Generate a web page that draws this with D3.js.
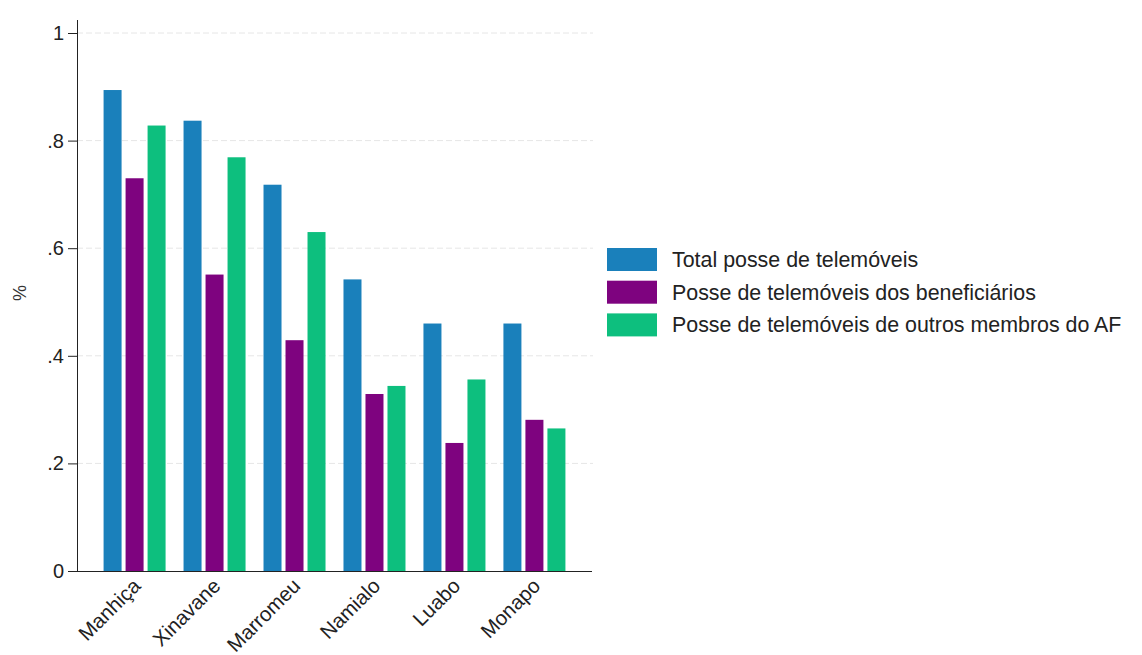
<!DOCTYPE html>
<html>
<head>
<meta charset="utf-8">
<script src="https://cdn.jsdelivr.net/npm/d3@7"></script>
<style>
  body { margin: 0; background: #fff; }
  svg { display: block; font-family: "Liberation Sans", Arial, sans-serif; }
</style>
</head>
<body>
<div id="chart"></div>
<script>
// data
const regions = ["Manhiça", "Xinavane", "Marromeu", "Namialo", "Luabo", "Monapo"];
const seriesNames = [
  "Total posse de telemóveis",
  "Posse de telemóveis dos beneficiários",
  "Posse de telemóveis de outros membros do AF"
];
const totalOwnership = [0.894, 0.837, 0.718, 0.542, 0.460, 0.460];
const beneficiaryOwnership = [0.730, 0.551, 0.429, 0.329, 0.238, 0.281];
const otherMembersOwnership = [0.828, 0.769, 0.630, 0.344, 0.356, 0.265];
const yTicks = [0, 0.2, 0.4, 0.6, 0.8, 1];
const yTickLabels = ["0", ".2", ".4", ".6", ".8", "1"];

const colors = ["#1a80bb", "#7e037f", "#0dbf7e"];
const seriesValues = [totalOwnership, beneficiaryOwnership, otherMembersOwnership];

const width = 1142, height = 655;
const plot = {left: 77, right: 592, top: 33, bottom: 571};

const svg = d3.select("#chart")
    .append("svg")
    .attr("width", width)
    .attr("height", height);

const yScale = d3.scaleLinear()
    .domain([0, 1])
    .range([plot.bottom, plot.top]);

const xScale = d3.scalePoint()
    .domain(regions)
    .range([plot.left, plot.right])
    .padding(0.72);

const innerScale = d3.scaleBand()
    .domain(d3.range(seriesNames.length))
    .range([-31, 31])
    .paddingInner(4 / 22);

// dashed grid lines
svg.append("g")
    .selectAll("line")
    .data(yTicks.filter(t => t > 0))
    .enter()
    .append("line")
        .attr("x1", plot.left)
        .attr("x2", plot.right + 1)
        .attr("y1", d => yScale(d))
        .attr("y2", d => yScale(d))
        .attr("stroke", "#e6e6e6")
        .attr("stroke-width", 1)
        .attr("stroke-dasharray", "6,3");

// bars
const rows = regions.map((r, i) => ({region: r, values: seriesValues.map(s => s[i])}));

svg.append("g")
    .selectAll("g")
    .data(rows)
    .enter()
    .append("g")
        .attr("transform", d => "translate(" + xScale(d.region) + ",0)")
    .selectAll("rect")
    .data(d => d.values.map((v, k) => ({k: k, v: v})))
    .enter()
    .append("rect")
        .attr("x", d => innerScale(d.k))
        .attr("y", d => yScale(d.v))
        .attr("width", innerScale.bandwidth())
        .attr("height", d => yScale(0) - yScale(d.v))
        .attr("fill", d => colors[d.k]);

// y axis
const yAxis = svg.append("g")
    .attr("transform", "translate(" + plot.left + ",0)")
    .call(d3.axisLeft(yScale)
        .tickValues(yTicks)
        .tickFormat((d, i) => yTickLabels[i])
        .tickSize(9)
        .tickPadding(4));
yAxis.select(".domain").attr("stroke", "#222").attr("d", "M0.5," + (plot.bottom + 0.5) + "V" + (plot.top - 13));
yAxis.selectAll(".tick line").attr("stroke", "#222");
yAxis.selectAll(".tick text")
    .attr("font-size", 20)
    .attr("fill", "#222")
    .attr("font-family", "Liberation Sans, Arial, sans-serif");

// x axis line
svg.append("line")
    .attr("x1", plot.left)
    .attr("x2", plot.right)
    .attr("y1", plot.bottom + 0.5)
    .attr("y2", plot.bottom + 0.5)
    .attr("stroke", "#222");

// x labels, rotated
svg.append("g")
    .selectAll("text")
    .data(regions)
    .enter()
    .append("text")
        .attr("transform", d => "translate(" + (xScale(d) - 3) + "," + (plot.bottom + 6) + ") rotate(-45)")
        .attr("text-anchor", "end")
        .attr("dy", "0.7em")
        .attr("font-size", 20.5)
        .attr("fill", "#222")
        .text(d => d);

// y title
svg.append("text")
    .attr("transform", "translate(26," + 293 + ") rotate(-90)")
    .attr("text-anchor", "middle")
    .attr("font-size", 18)
    .attr("fill", "#333")
    .text("%");

// legend
const legend = svg.append("g")
    .attr("transform", "translate(607,248)");

const legendItems = legend.selectAll("g")
    .data(seriesNames)
    .enter()
    .append("g")
        .attr("transform", (d, i) => "translate(0," + (i * 32.7) + ")");

legendItems.append("rect")
    .attr("width", 50)
    .attr("height", 23)
    .attr("fill", (d, i) => colors[i]);

legendItems.append("text")
    .attr("x", 65)
    .attr("y", 11.5)
    .attr("dy", "0.35em")
    .attr("font-size", 21.4)
    .attr("fill", "#222")
    .text(d => d);
</script>
</body>
</html>
